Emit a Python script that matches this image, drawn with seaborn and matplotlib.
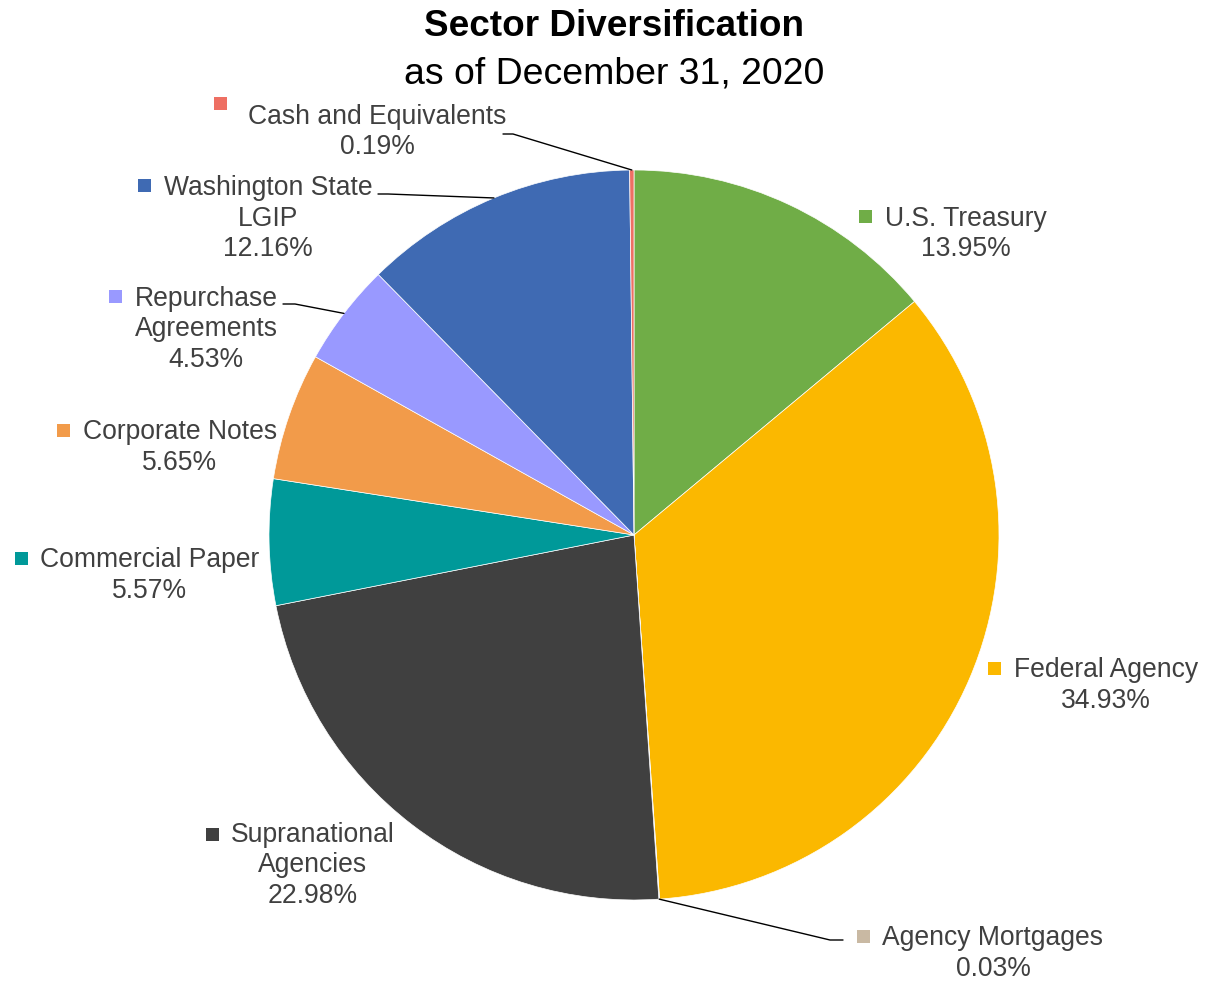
import numpy as np
import matplotlib
matplotlib.use("Agg")
import matplotlib.pyplot as plt
from matplotlib.transforms import Affine2D
from matplotlib.lines import Line2D
from matplotlib.patches import Rectangle
import seaborn as sns

# ---------------- data ----------------
sectors = ["U.S. Treasury", "Federal Agency", "Agency Mortgages", "Supranational Agencies",
           "Commercial Paper", "Corporate Notes", "Repurchase Agreements",
           "Washington State LGIP", "Cash and Equivalents"]
label_lines = [["U.S. Treasury"], ["Federal Agency"], ["Agency Mortgages"],
               ["Supranational", "Agencies"], ["Commercial Paper"], ["Corporate Notes"],
               ["Repurchase", "Agreements"], ["Washington State", "LGIP"],
               ["Cash and Equivalents"]]
shares = [13.95, 34.93, 0.03, 22.98, 5.57, 5.65, 4.53, 12.16, 0.19]
colors = ["#70AD47", "#FBB800", "#C9B9A3", "#404040", "#009999",
          "#F29B4A", "#9999FF", "#3F6AB3", "#EE6F63"]
title_main = "Sector Diversification"
title_sub = "as of December 31, 2020"

# ---------------- layout (pixels, y down) ----------------
W, H = 1205, 984
CX, CY, R = 634, 535, 365
# text centre x, first-line baseline y, square centre (x, y)
label_layout = [
    (966, 226, (865, 216)),
    (1106, 677, (994, 668)),
    (993, 945, (863, 936)),
    (313, 842, (212, 834)),
    (150, 567, (21, 558)),
    (180, 439, (63, 430)),
    (206, 306, (115, 296)),
    (268, 195, (144, 185)),
    (377, 124, (220, 103)),
]
LINE_STEP = 30.5
# leader lines: index -> elbow points (from label side)
leaders = {
    2: [(843, 940), (830, 940)],
    6: [(283, 304), (295, 304)],
    7: [(378, 194), (388, 194)],
    8: [(503, 134), (513, 134)],
}

sns.set_theme(style="white")
plt.rcParams["font.family"] = ["Liberation Sans", "DejaVu Sans"]

fig = plt.figure(figsize=(W / 100, H / 100), dpi=100)
fig.patch.set_facecolor("white")
T = Affine2D().scale(1 / W, -1 / H).translate(0, 1) + fig.transFigure

ax = fig.add_axes([(CX - R) / W, (H - CY - R) / H, 2 * R / W, 2 * R / H])
pal = sns.color_palette(colors)
ax.pie(shares, colors=pal, startangle=90, counterclock=False, radius=1,
       wedgeprops=dict(edgecolor="white", linewidth=0.5))
ax.set_xlim(-1, 1)
ax.set_ylim(-1, 1)
ax.set_aspect("equal")
ax.axis("off")

# title
fig.text(614, 36, title_main, transform=T, ha="center", va="baseline",
         fontsize=26.6, fontweight="bold", color="black")
fig.text(614, 84, title_sub, transform=T, ha="center", va="baseline",
         fontsize=26.9, color="black")

# labels
total = sum(shares)
cum = np.cumsum([0] + shares[:-1])
for i, (lines, val) in enumerate(zip(label_lines, shares)):
    tx, ty, (sx, sy) = label_layout[i]
    for k, ln in enumerate(lines + [f"{val:.2f}%"]):
        fig.text(tx, ty + k * LINE_STEP, ln, transform=T, ha="center", va="baseline",
                 fontsize=19.1, color="#404040")
    fig.add_artist(Rectangle((sx - 6.5, sy - 6.5), 13, 13, transform=T,
                             facecolor=colors[i], edgecolor="none"))
    if i in leaders:
        mid = (cum[i] + val / 2) / total * 2 * np.pi
        ex = CX + R * np.sin(mid)
        ey = CY - R * np.cos(mid)
        pts = leaders[i] + [(ex, ey)]
        xs = [p[0] for p in pts]
        ys = [p[1] for p in pts]
        fig.add_artist(Line2D(xs, ys, transform=T, color="black", linewidth=1.0))

fig.savefig("out.png", dpi=100)
